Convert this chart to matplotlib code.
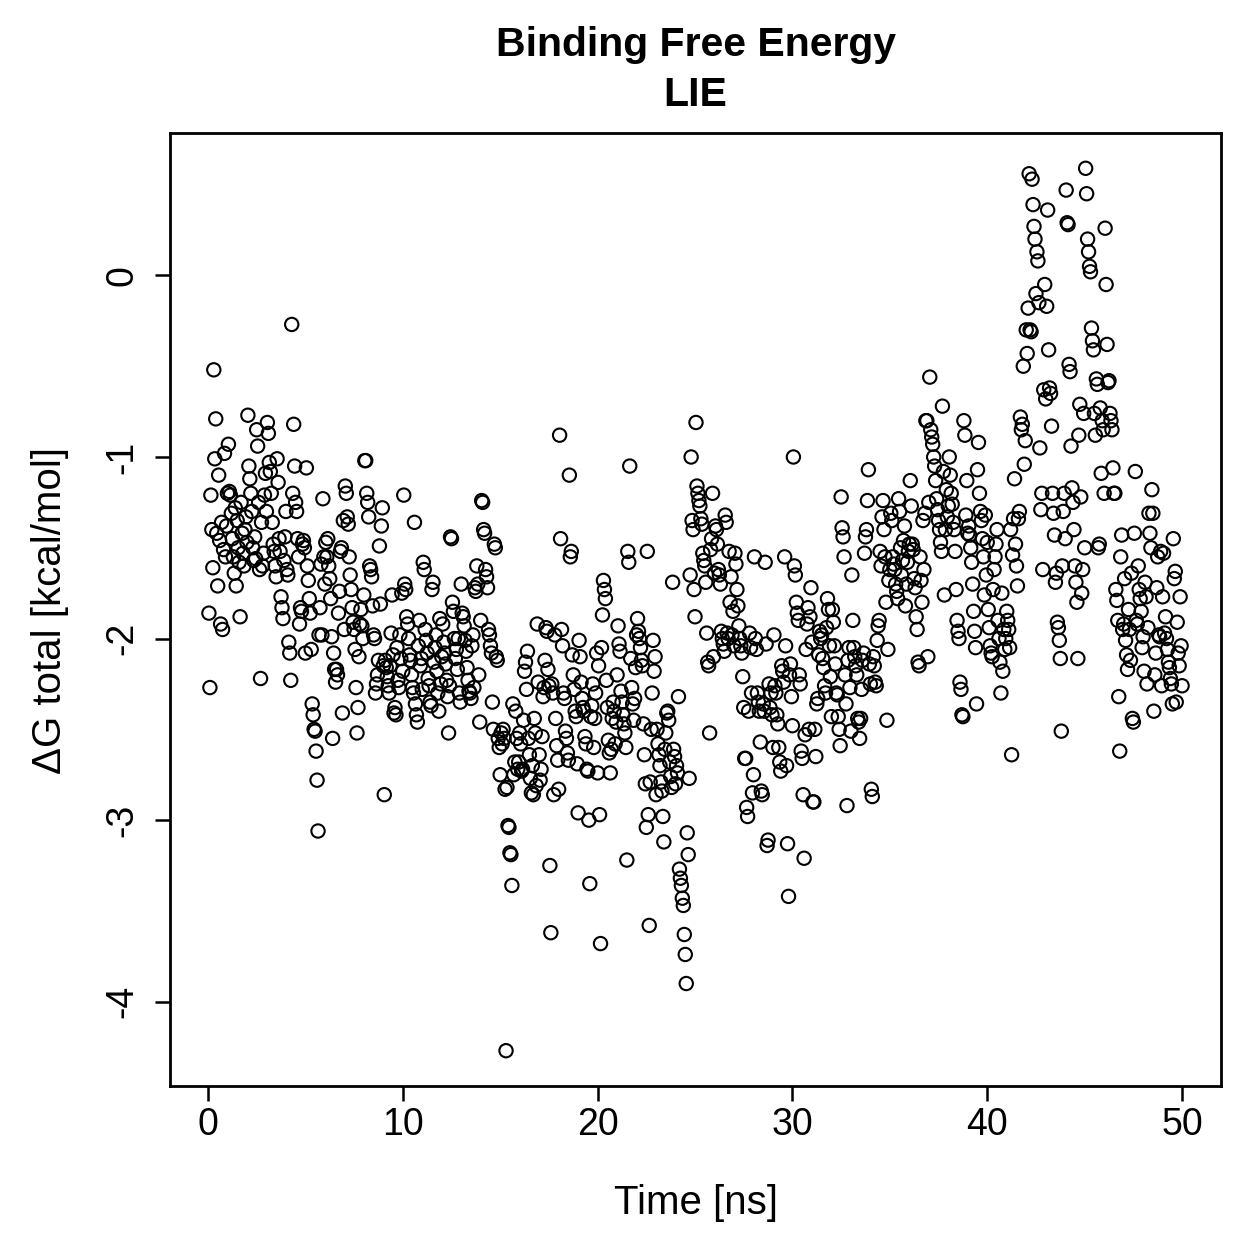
import numpy as np
import matplotlib
matplotlib.use("Agg")
import matplotlib.pyplot as plt

plt.rcParams['font.family'] = ['Liberation Sans', 'DejaVu Sans']

# Binding free energy (LIE), kcal/mol, one frame every 0.05 ns; 5 ns per block
dg_00_05 = [-1.86,-2.27,-1.21,-1.40,-1.61,-0.52,-1.01,-0.79,-1.42,-1.71,-1.10,-1.46,-1.92,-1.36,-1.95,-1.51,-0.98,-1.55,-1.38,-1.20,
            -0.93,-1.19,-1.21,-1.31,-1.45,-1.55,-1.64,-1.28,-1.71,-1.35,-1.50,-1.58,-1.88,-1.25,-1.42,-1.53,-1.60,-1.40,-1.33,-1.47,
            -0.77,-1.05,-1.12,-1.20,-1.30,-1.50,-1.57,-1.44,-1.56,-0.85,-0.94,-1.25,-1.62,-2.22,-1.36,-1.60,-1.53,-1.21,-1.09,-1.30,
            -0.81,-0.87,-1.03,-1.08,-1.20,-1.36,-1.48,-1.52,-1.60,-1.66,-1.01,-1.14,-1.45,-1.52,-1.77,-1.83,-1.89,-1.57,-1.44,-1.30,
            -1.62,-1.65,-2.02,-2.08,-2.23,-0.27,-1.20,-0.82,-1.05,-1.25,-1.30,-1.45,-1.55,-1.92,-1.83,-1.85,-1.48,-1.46,-1.50,-2.08]
dg_05_10 = [-1.06,-1.60,-1.68,-1.78,-1.86,-2.06,-2.36,-2.42,-2.50,-2.51,-2.62,-2.78,-3.06,-1.98,-1.83,-1.59,-1.98,-1.23,-1.55,-1.70,
            -1.47,-1.55,-1.45,-1.60,-1.67,-1.78,-1.99,-2.55,-2.08,-2.17,-2.24,-2.17,-2.20,-1.86,-1.74,-1.52,-1.50,-2.41,-1.35,-1.95,
            -1.16,-1.20,-1.33,-1.37,-1.55,-1.65,-1.73,-1.83,-1.91,-1.95,-2.06,-2.27,-2.52,-2.38,-2.10,-1.92,-1.84,-1.93,-2.00,-1.76,
            -1.02,-1.02,-1.20,-1.25,-1.33,-1.60,-1.62,-1.66,-1.82,-1.98,-2.00,-2.30,-2.25,-2.20,-2.12,-1.49,-1.81,-1.38,-1.28,-2.15,
            -2.86,-2.12,-2.16,-2.21,-2.26,-2.30,-2.15,-1.97,-1.76,-2.09,-2.41,-2.38,-2.42,-2.05,-2.23,-2.27,-1.98,-2.11,-1.75,-2.18]
dg_10_15 = [-1.21,-1.70,-1.73,-1.88,-1.92,-2.00,-2.09,-2.12,-2.20,-2.27,-2.30,-1.36,-2.36,-2.42,-2.46,-2.04,-1.90,-2.15,-2.11,-2.28,
            -1.58,-1.62,-1.95,-2.01,-2.08,-2.22,-2.26,-2.35,-2.37,-1.73,-1.69,-2.13,-2.05,-1.98,-2.18,-2.30,-2.40,-1.89,-2.25,-2.10,
            -1.92,-2.02,-2.08,-2.14,-2.23,-2.32,-2.52,-2.26,-1.44,-1.45,-1.80,-1.85,-2.00,-2.11,-2.06,-2.17,-2.00,-2.30,-2.35,-1.70,
            -1.86,-1.88,-1.93,-2.01,-2.07,-2.16,-2.23,-2.29,-2.30,-2.33,-2.04,-1.98,-2.27,-1.72,-1.74,-1.60,-1.70,-2.20,-2.46,-1.90,
            -1.24,-1.25,-1.40,-1.42,-1.62,-1.66,-1.72,-1.95,-1.98,-2.04,-2.08,-2.35,-2.50,-1.48,-1.50,-2.10,-2.12,-2.55,-2.60,-2.75]
dg_15_20 = [-2.52,-2.58,-2.50,-2.55,-2.83,-4.27,-2.82,-3.03,-3.04,-3.18,-3.19,-3.36,-2.36,-2.75,-2.68,-2.40,-2.55,-2.72,-2.68,-2.52,
            -2.58,-2.73,-2.72,-2.45,-2.18,-2.13,-2.28,-2.07,-2.55,-2.64,-2.77,-2.85,-2.70,-2.86,-2.44,-2.52,-2.81,-1.92,-2.24,-2.64,
            -2.78,-2.72,-2.54,-2.32,-2.27,-2.12,-1.94,-1.96,-2.17,-2.26,-3.25,-3.62,-2.25,-2.30,-2.86,-1.98,-2.44,-2.59,-2.67,-2.83,
            -0.88,-1.45,-1.95,-2.04,-2.30,-2.33,-2.51,-2.55,-2.63,-2.67,-1.10,-1.55,-1.52,-2.09,-2.20,-2.28,-2.40,-2.43,-2.69,-2.96,
            -2.01,-2.10,-2.24,-2.33,-2.38,-2.40,-2.54,-2.58,-2.72,-2.73,-3.00,-3.35,-2.43,-2.37,-2.25,-2.60,-2.44,-2.30,-2.08,-2.74]
dg_20_25 = [-2.15,-2.97,-3.68,-2.05,-1.87,-1.68,-1.73,-1.78,-2.23,-2.38,-2.56,-2.63,-2.74,-2.61,-2.44,-2.35,-2.40,-2.58,-2.46,-2.20,
            -1.93,-2.03,-2.07,-2.29,-2.35,-2.42,-2.47,-2.52,-2.60,-3.22,-1.52,-1.58,-1.05,-2.11,-2.27,-2.36,-2.45,-2.33,-2.16,-1.98,
            -1.89,-1.96,-2.00,-2.05,-2.12,-2.15,-2.47,-2.64,-2.80,-3.04,-1.52,-2.97,-3.58,-2.79,-2.50,-2.30,-2.01,-2.18,-2.10,-2.86,
            -2.50,-2.58,-2.64,-2.70,-2.79,-2.84,-2.98,-3.12,-2.61,-2.52,-2.41,-2.40,-2.45,-2.68,-2.76,-2.82,-1.69,-2.61,-2.65,-2.80,
            -2.70,-2.74,-2.32,-3.27,-3.32,-3.36,-3.43,-3.47,-3.63,-3.74,-3.90,-3.07,-3.19,-2.77,-1.65,-1.00,-1.35,-1.40,-1.73,-1.88]
dg_25_30 = [-0.81,-1.16,-1.20,-1.24,-1.27,-1.34,-1.37,-1.53,-1.57,-1.60,-1.69,-1.97,-2.13,-2.15,-2.52,-1.51,-1.45,-1.20,-2.10,-1.64,
            -1.38,-1.40,-1.48,-1.62,-1.65,-1.70,-1.96,-2.00,-2.03,-2.07,-1.32,-1.36,-1.97,-2.00,-1.52,-1.80,-1.66,-1.98,-1.85,-2.04,
            -1.53,-1.59,-1.73,-1.82,-1.93,-2.00,-2.04,-2.08,-2.21,-2.38,-2.66,-2.66,-2.93,-2.98,-2.40,-1.97,-2.05,-2.30,-2.85,-2.75,
            -1.55,-2.00,-2.06,-2.30,-2.35,-2.40,-2.57,-2.84,-2.86,-2.36,-2.40,-1.58,-2.03,-3.14,-3.11,-2.25,-2.38,-2.30,-2.42,-2.60,
            -1.98,-2.26,-2.30,-2.42,-2.47,-2.60,-2.68,-2.73,-2.15,-2.18,-2.24,-1.55,-2.04,-2.70,-3.13,-3.42,-2.20,-2.14,-2.32,-2.48]
dg_30_35 = [-1.00,-1.60,-1.65,-1.80,-1.86,-1.90,-2.20,-2.25,-2.62,-2.66,-2.86,-3.21,-2.53,-2.06,-1.92,-1.83,-2.50,-1.88,-1.72,-2.02,
            -2.90,-2.90,-2.50,-2.65,-2.36,-2.33,-2.09,-1.96,-2.00,-1.98,-2.11,-2.16,-2.26,-2.30,-1.94,-1.78,-1.84,-2.04,-2.21,-2.43,
            -1.84,-1.91,-2.04,-2.14,-2.30,-2.31,-2.43,-2.50,-2.59,-1.22,-1.39,-1.44,-1.55,-2.20,-2.36,-2.92,-2.12,-2.05,-2.27,-2.51,
            -1.65,-1.90,-2.05,-2.10,-2.15,-2.20,-2.44,-2.46,-2.55,-2.44,-2.28,-2.12,-2.08,-1.53,-1.44,-1.40,-1.24,-1.07,-2.14,-2.25,
            -2.83,-2.87,-2.10,-2.15,-2.24,-2.26,-2.01,-1.93,-1.90,-1.52,-1.60,-1.33,-1.24,-1.40,-1.55,-1.80,-2.45,-2.06,-1.68,-1.62]
dg_35_40 = [-1.31,-1.35,-1.55,-1.59,-1.62,-1.70,-1.74,-1.78,-1.23,-1.30,-1.50,-1.65,-1.57,-1.46,-1.38,-1.82,-1.70,-1.58,-1.52,-1.48,
            -1.13,-1.27,-1.48,-1.51,-1.67,-1.72,-1.88,-1.95,-2.13,-2.15,-1.55,-1.68,-1.80,-1.35,-1.62,-1.31,-0.80,-0.80,-2.10,-1.25,
            -0.56,-0.85,-0.89,-0.93,-1.00,-1.05,-1.13,-1.23,-1.29,-1.35,-1.40,-1.47,-1.52,-0.72,-1.08,-1.76,-1.40,-1.18,-1.33,-1.27,
            -1.00,-1.10,-1.20,-1.26,-1.36,-1.40,-1.52,-1.73,-1.90,-1.96,-2.00,-2.24,-2.28,-2.42,-2.43,-0.80,-0.88,-1.32,-1.13,-1.42,
            -1.38,-1.43,-1.50,-1.58,-1.70,-1.85,-1.96,-2.05,-2.36,-1.07,-0.92,-1.20,-1.30,-1.35,-1.45,-1.55,-1.76,-1.32,-1.65,-1.47]
dg_40_45 = [-1.84,-1.94,-2.04,-2.08,-2.10,-1.73,-1.62,-1.55,-1.48,-1.40,-1.90,-2.00,-2.13,-2.30,-1.75,-2.18,-1.95,-2.06,-2.00,-1.85,
            -1.90,-1.95,-2.05,-1.40,-2.64,-1.54,-1.34,-1.12,-1.48,-1.60,-1.71,-1.34,-1.30,-0.78,-0.85,-0.82,-0.50,-1.04,-0.91,-0.30,
            -0.43,-0.18,0.56,-0.30,-0.31,0.53,0.39,0.27,0.20,-0.10,0.13,0.08,-0.15,-0.95,-1.29,-1.20,-1.62,-0.63,-0.05,-0.68,
            -0.17,0.36,-0.41,-0.62,-0.65,-0.83,-1.20,-1.31,-1.43,-1.69,-1.64,-1.91,-1.94,-2.01,-2.11,-2.51,-1.60,-1.30,-1.20,-1.45,
            0.47,0.29,0.28,-0.49,-0.53,-0.94,-1.17,-1.25,-1.40,-1.60,-1.69,-1.80,-2.11,-0.88,-0.71,-1.22,-1.75,-1.62,-0.76,-1.50]
dg_45_50 = [0.59,0.45,0.20,0.13,0.05,0.02,-0.29,-0.36,-0.41,-0.76,-0.88,-0.57,-0.60,-1.50,-1.48,-0.73,-1.09,-0.80,-0.85,-1.20,
            0.26,-0.05,-0.38,-0.59,-0.58,-0.76,-0.80,-0.85,-1.06,-1.20,-1.20,-1.73,-1.79,-1.90,-2.32,-2.62,-1.55,-1.43,-1.95,-1.92,
            -1.67,-2.01,-2.09,-2.17,-1.84,-1.95,-2.12,-1.64,-2.44,-2.46,-1.42,-1.08,-1.90,-1.92,-1.60,-1.73,-1.78,-1.85,-2.05,-1.99,
            -2.18,-1.69,-1.77,-2.25,-1.94,-1.31,-1.42,-1.50,-1.18,-1.31,-2.40,-2.20,-2.08,-1.72,-1.55,-1.98,-1.99,-1.52,-2.26,-1.77,
            -1.53,-1.97,-1.88,-2.00,-2.06,-2.13,-2.16,-2.22,-2.25,-2.36,-1.45,-1.67,-1.63,-2.35,-1.91,-2.08,-2.15,-1.77,-2.04,-2.26]

dg = np.array(dg_00_05 + dg_05_10 + dg_10_15 + dg_15_20 + dg_20_25 +
              dg_25_30 + dg_30_35 + dg_35_40 + dg_40_45 + dg_45_50)
frame_step_ns = 0.05
time_ns = np.arange(1, len(dg) + 1) * frame_step_ns

x_ticks = [0, 10, 20, 30, 40, 50]
y_ticks = [0, -1, -2, -3, -4]

W = H = 1259
fig = plt.figure(figsize=(W / 100, H / 100), dpi=100)
ax = fig.add_axes([170 / W, 1 - 1086 / H, (1221 - 170) / W, (1086 - 133) / H])

ax.scatter(time_ns, dg, s=92, facecolors='none', edgecolors='black', linewidths=1.5)

def rpad(lo, hi):
    d = (hi - lo) * 0.04
    return lo - d, hi + d

ax.set_xlim(*rpad(time_ns.min(), time_ns.max()))
ax.set_ylim(*rpad(dg.min(), dg.max()))

ax.set_xticks(x_ticks)
ax.set_yticks(y_ticks)
ax.set_xticklabels([str(v) for v in x_ticks])
ax.set_yticklabels([str(v) for v in y_ticks], rotation=90, va='center')
ax.tick_params(axis='both', direction='out', length=11, width=1.8, labelsize=27, colors='black')
ax.tick_params(axis='x', pad=4)
ax.tick_params(axis='y', pad=10)
for sp in ax.spines.values():
    sp.set_linewidth(2.0)

cx = (170 + 1221) / 2 / W
fig.text(cx, 1 - 45 / H, "Binding Free Energy", ha='center', va='center', fontsize=29.5, fontweight='bold')
fig.text(cx, 1 - 95 / H, "LIE", ha='center', va='center', fontsize=29.5, fontweight='bold')
fig.text(cx, 1 - 1203 / H, "Time [ns]", ha='center', va='center', fontsize=29)
fig.text(50 / W, 1 - 610 / H, "ΔG total [kcal/mol]", ha='center', va='center', rotation=90, fontsize=29)

fig.savefig("out.png", dpi=100, facecolor='white')
